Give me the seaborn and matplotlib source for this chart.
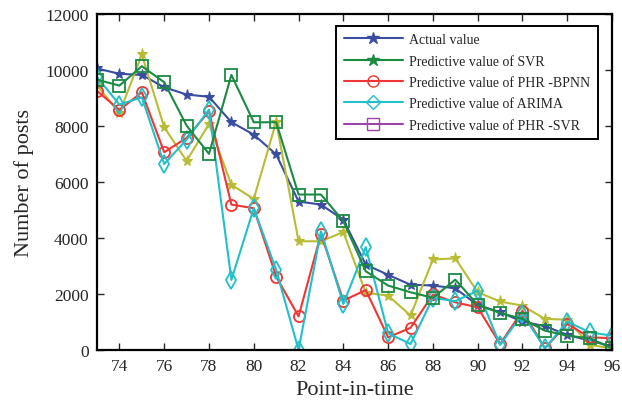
import numpy as np
import pandas as pd
import matplotlib
matplotlib.use("Agg")
import matplotlib.pyplot as plt
import seaborn as sns
from matplotlib.lines import Line2D

# Dados
t = list(range(73, 97))
actual = [10050, 9860, 9820, 9380, 9120, 9040, 8130, 7690, 6980, 5300, 5190, 4650,
          3050, 2680, 2330, 2300, 2200, 1600, 1350, 1010, 850, 540, 330, 130]
svr = [9450, 8450, 10550, 7950, 6750, 8070, 5900, 5390, 8150, 3880, 3880, 4210,
       2040, 1940, 1230, 3230, 3270, 2060, 1730, 1580, 1110, 1080, 180, 60]
bpnn = [9250, 8570, 9200, 7060, 7570, 8520, 5190, 5060, 2620, 1200, 4140, 1760,
        2140, 450, 790, 1980, 1700, 1520, 210, 1400, 60, 930, 450, 420]
arima = [9740, 8760, 9020, 6640, 7510, 8580, 2500, 5060, 2860, 0, 4240, 1640,
         3670, 600, 210, 1860, 1740, 2120, 180, 1290, 60, 1010, 630, 510]
phr_svr = [9650, 9440, 10130, 9560, 8010, 7000, 9820, 8130, 8130, 5550, 5550, 4600,
           2810, 2300, 2060, 1860, 2510, 1610, 1320, 1110, 690, 510, 420, 60]

labels = ["Actual value", "Predictive value of SVR", "Predictive value of PHR -BPNN",
          "Predictive value of ARIMA", "Predictive value of PHR -SVR"]

df = pd.DataFrame({"t": t, "actual": actual, "svr": svr, "bpnn": bpnn,
                   "arima": arima, "phr_svr": phr_svr})

sns.set_style("ticks")
plt.rcParams["font.family"] = ["Liberation Serif", "DejaVu Serif"]

blue = "#3a4da0"
olive = "#b8bd35"
red = "#f03535"
cyan = "#22c0c8"
green = "#1b8a42"
purple = "#9a45a8"

fig = plt.figure(figsize=(6.22, 4.02), dpi=100)
ax = fig.add_axes([0.156, 0.127, 0.828, 0.836])

lw = 1.5
sns.lineplot(data=df, x="t", y="actual", ax=ax, color=blue, lw=lw, marker="*",
             markersize=8, markeredgecolor=blue, legend=False)
sns.lineplot(data=df, x="t", y="svr", ax=ax, color=olive, lw=lw, marker="*",
             markersize=8, markeredgecolor=olive, legend=False)
sns.lineplot(data=df, x="t", y="bpnn", ax=ax, color=red, lw=lw, marker="o",
             markersize=8, markerfacecolor="none", markeredgecolor=red,
             markeredgewidth=1.3, legend=False)
sns.lineplot(data=df, x="t", y="arima", ax=ax, color=cyan, lw=lw, marker="d",
             markersize=9, markerfacecolor="none", markeredgecolor=cyan,
             markeredgewidth=1.3, legend=False)
sns.lineplot(data=df, x="t", y="phr_svr", ax=ax, color=green, lw=lw, marker="s",
             markersize=8, markerfacecolor="none", markeredgecolor=green,
             markeredgewidth=1.3, legend=False)

ax.set_xlim(73, 96)
ax.set_ylim(0, 12000)
ax.set_xticks(range(74, 97, 2))
ax.set_yticks(range(0, 12001, 2000))
ax.tick_params(direction="in", top=True, right=True, labelsize=12.5, length=5,
               width=1, pad=6)
for s in ax.spines.values():
    s.set_linewidth(1.6)
    s.set_color("black")
ax.set_xlabel("Point-in-time", fontsize=16, labelpad=4)
ax.set_ylabel("Number of posts", fontsize=16, labelpad=8)

# Legenda (cores como no original)
handles = [
    Line2D([], [], color=blue, lw=lw, marker="*", markersize=9),
    Line2D([], [], color=green, lw=lw, marker="*", markersize=9),
    Line2D([], [], color=red, lw=lw, marker="o", markersize=8, markerfacecolor="none"),
    Line2D([], [], color=cyan, lw=lw, marker="D", markersize=7, markerfacecolor="none"),
    Line2D([], [], color=purple, lw=lw, marker="s", markersize=8, markerfacecolor="none"),
]
leg = ax.legend(handles, labels, loc="upper right", bbox_to_anchor=(0.972, 0.965),
                borderaxespad=0, fontsize=10, handlelength=4.3, handletextpad=0.4,
                frameon=True, fancybox=False, edgecolor="black", framealpha=1,
                borderpad=0.55, labelspacing=0.6)
leg.get_frame().set_linewidth(1.4)

fig.savefig("out.png", dpi=100)
